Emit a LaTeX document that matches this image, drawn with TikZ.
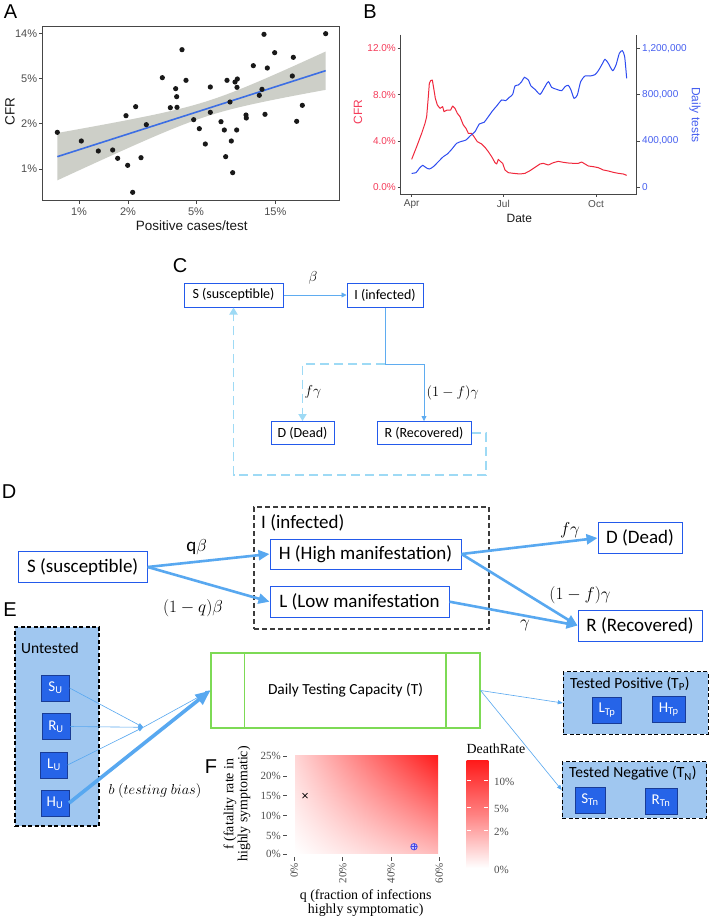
\documentclass[tikz,border=0pt]{standalone}
\usepackage{fontspec}
\setmainfont{Carlito}
\newfontfamily\arialf{Liberation Sans}
\newfontfamily\timesf{Liberation Serif}
\usetikzlibrary{arrows.meta,shadings}
\definecolor{cboxblue}{RGB}{35,90,235}
\definecolor{csolid}{RGB}{95,172,240}
\definecolor{cdash}{RGB}{158,218,245}
\definecolor{darrow}{RGB}{88,168,240}
\definecolor{untfill}{RGB}{160,199,240}
\definecolor{subfill}{RGB}{38,100,232}
\definecolor{subedge}{RGB}{25,60,150}
\definecolor{tgreen}{RGB}{125,218,85}
\definecolor{bred}{RGB}{240,40,60}
\definecolor{bblue}{RGB}{45,75,240}
\definecolor{bredtxt}{RGB}{245,60,90}
\definecolor{bbluetxt}{RGB}{70,95,240}
\definecolor{aline}{RGB}{60,110,228}
\definecolor{aband}{RGB}{205,207,200}
\definecolor{axgray}{RGB}{70,70,70}
\definecolor{ticktxt}{RGB}{77,77,77}
\definecolor{hred}{RGB}{255,25,25}
\definecolor{dgray}{RGB}{60,60,60}
\definecolor{mblue}{RGB}{70,70,230}
\begin{document}
\begin{tikzpicture}[x=1pt,y=-1pt,
 plab/.style={font=\arialf\fontsize{20}{24}\selectfont, inner sep=0},
 atick/.style={font=\arialf\fontsize{11}{13}\selectfont, text=ticktxt, inner sep=0},
 atitle/.style={font=\arialf\fontsize{13.5}{16}\selectfont, text=black!90, inner sep=0},
 btickl/.style={font=\arialf\fontsize{10}{12}\selectfont, text=bredtxt, inner sep=0, anchor=east},
 btickr/.style={font=\arialf\fontsize{10}{12}\selectfont, text=bbluetxt, inner sep=0, anchor=west},
 btickx/.style={font=\arialf\fontsize{10}{12}\selectfont, text=ticktxt, inner sep=0},
 cbox/.style={draw=cboxblue, line width=1pt, fill=white, inner sep=0, minimum height=24pt, font=\fontsize{14}{16}\selectfont},
 dbox/.style={draw=cboxblue, line width=1pt, fill=white, inner sep=0, minimum height=30.5pt, font=\fontsize{19}{22}\selectfont},
 csol/.style={draw=csolid, line width=0.8pt},
 cdsh/.style={draw=cdash, line width=1.8pt, dash pattern=on 9pt off 5pt},
 darr/.style={draw=darrow, line width=2.6pt, -{Triangle[length=11pt,width=10pt]}},
 mlab/.style={inner sep=0},
 grpbox/.style={draw=black, line width=1.1pt, dash pattern=on 4pt off 2.5pt, fill=untfill, inner sep=0},
 subbox/.style={draw=subedge, line width=0.6pt, fill=subfill, text=white, inner sep=0, minimum height=26pt, font=\fontsize{15}{17}\selectfont},
 earr/.style={draw=darrow, line width=0.6pt, -{Triangle[length=5pt,width=4pt]}},
 ftick/.style={font=\timesf\fontsize{11}{13}\selectfont, text=ticktxt, inner sep=0},
 ftitle/.style={font=\timesf\fontsize{13.9}{14}\selectfont, inner sep=0, align=center},
 grptitle/.style={anchor=west, font=\fontsize{15.5}{18}\selectfont, inner sep=0},
]
\useasboundingbox (0,0) rectangle (709,919);
\fill[white] (0,0) rectangle (709,919);

% ================= Panel A =================
\begin{scope}[x=0.33333pt,y=-0.33333pt]
\node[plab] (labA) at (32,35) {A};
\fill[aband] plot[domain=172:977,samples=50] (\x,{470-0.3205*(\x-172)-sqrt(506+(0.1494*(\x-622.8))*(0.1494*(\x-622.8)))}) -- plot[domain=977:172,samples=50] (\x,{470-0.3205*(\x-172)+sqrt(506+(0.1494*(\x-622.8))*(0.1494*(\x-622.8)))}) -- cycle;
\draw[aline, line width=1.6pt] (172,470) -- (977,212);
\foreach \p in {(172,397),(244,423),(295,453),(338,450),(353,475),(383,496),(398,577),(378,347),(407,320),(423,473),(439,374),(487,233),(511,323),(527,266),(530,290),(531,322),(546,149),(558,241),(581,359),(598,386),(616,432),(631,261),(631,337),(663,365),(673,390),(677,470),(681,241),(690,306),(694,423),(698,518),(705,246),(710,390),(711,262),(712,237),(738,345),(739,354),(760,197),(778,286),(786,268),(792,103),(795,343),(802,204),(824,158),(877,228),(880,172),(890,364),(907,316),(977,101)}
  \fill[black!90] \p circle (2.6pt);
\draw[axgray, line width=0.7pt] (128,78) rectangle (1018,602);
\foreach \y/\t in {101/14\%,236/5\%,371/2\%,507/1\%}{
  \draw[axgray,line width=0.7pt] (118,\y) -- (128,\y);
  \node[atick,anchor=east] at (112,\y) {\t};}
\foreach \x/\t in {237/1\%,384/2\%,588/5\%,826/15\%}{
  \draw[axgray,line width=0.7pt] (\x,602) -- (\x,612);
  \node[atick] at (\x,636) {\t};}
\node[atitle] (axA) at (575,678) {Positive cases/test};
\node[atitle, rotate=90] (ayA) at (30,335) {CFR};
\end{scope}

% ================= Panel B =================
\begin{scope}[xshift=360pt, x=0.33333pt,y=-0.33333pt]
\node[plab] (labB) at (30,35) {B};
\draw[bred, line width=1pt, line join=round] plot coordinates {(155,478) (170,440) (185,400) (195,370) (200,350) (205,290) (208,250) (212,242) (217,240) (222,270) (226,295) (232,315) (240,325) (248,320) (252,335) (262,330) (272,330) (278,318) (285,325) (292,340) (300,350) (310,375) (318,385) (325,400) (335,400) (342,410) (352,425) (365,432) (375,442) (385,455) (395,470) (405,488) (410,492) (415,478) (422,485) (428,490) (435,510) (445,518) (460,520) (480,522) (495,520) (510,512) (525,502) (540,492) (550,490) (565,495) (580,488) (595,484) (610,487) (625,489) (640,490) (655,490) (665,486) (675,492) (685,498) (700,500) (715,503) (730,510) (745,513) (760,517) (775,520) (790,522) (800,526)};
\draw[bblue, line width=1pt] plot[smooth, tension=0.4] coordinates {(155,520) (168,518) (178,505) (188,496) (198,503) (208,507) (220,500) (235,485) (250,470) (262,462) (275,448) (290,430) (305,424) (318,420) (330,408) (345,395) (358,372) (372,367) (385,350) (398,332) (410,318) (425,300) (437,302) (448,292) (458,283) (465,258) (475,255) (485,245) (493,232) (505,240) (513,258) (525,268) (540,283) (552,265) (565,245) (575,262) (590,268) (605,272) (615,260) (625,256) (633,270) (642,295) (652,285) (662,245) (675,228) (690,228) (705,224) (715,212) (725,195) (735,178) (745,190) (758,212) (768,195) (778,160) (787,152) (794,170) (800,235)};
\draw[axgray, line width=0.8pt] (122,104) -- (122,583) -- (830,583) -- (830,104);
\foreach \y/\l/\r in {145/12.0\%/{1,200,000},284/8.0\%/{800,000},423/4.0\%/{400,000},562/0.0\%/0}{
  \draw[axgray,line width=0.7pt] (113,\y) -- (122,\y);
  \draw[axgray,line width=0.7pt] (830,\y) -- (839,\y);
  \node[btickl] at (108,\y) {\l};
  \node[btickr] at (846,\y) {\r};}
\foreach \x/\t in {155/Apr,430/Jul,708/Oct}{
  \draw[axgray,line width=0.7pt] (\x,583) -- (\x,592);
  \node[btickx] at (\x,612) {\t};}
\node[atitle, font=\arialf\fontsize{12}{14}\selectfont] (axB) at (478,655) {Date};
\node[atitle, font=\arialf\fontsize{12}{14}\selectfont, text=bbluetxt, rotate=-90] (ayB) at (1005,345) {Daily tests};
\node[atitle, font=\arialf\fontsize{12}{14}\selectfont, text=bredtxt, rotate=90] (ayB2) at (-6,336) {CFR};
\end{scope}

% ================= Panel C =================
\node[plab] (labC) at (180,266) {C};
\node[cbox, minimum width=99pt] (cS) at (233.5,295) {S (susceptible)};
\node[cbox, minimum width=76pt] (cI) at (385,295) {I (infected)};
\node[cbox, minimum width=63pt, minimum height=23pt] (cD) at (302.5,433) {D (Dead)};
\node[cbox, minimum width=94pt, minimum height=23pt] (cR) at (424,433) {R (Recovered)};
\coordinate (cj) at (385,364);
\coordinate (cl) at (485.7,475);
\draw[csol, -{Triangle[length=5pt,width=5pt]}] (cS) -- (cI);
\draw[csol, -{Triangle[length=5pt,width=5pt]}] (cI.south) -- (cj) -| (cR.north);
\draw[cdsh, -{Triangle[length=7pt,width=8pt]}] (cj) -| (cD.north);
\draw[cdsh, -{Triangle[length=7pt,width=8pt]}] (cR.east) -| (cl) -| (cS.south);
\node[mlab, font=\fontsize{14}{16}\selectfont] (cbeta) at (313,278) {$\beta$};
\node[mlab, font=\fontsize{14}{16}\selectfont] (cfg) at (313,392) {$f\gamma$};
\node[mlab, font=\fontsize{14}{16}\selectfont] (c1fg) at (452.7,392.7) {$(1-f)\gamma$};

% ================= Panel D =================
\node[plab] (labD) at (9,492) {D};
\node[draw=dgray, line width=1.1pt, dash pattern=on 5pt off 3pt, minimum width=235pt, minimum height=122pt, inner sep=0] (dI) at (371.5,568) {};
\node[anchor=west, inner sep=0, font=\fontsize{19}{22}\selectfont] (dIlab) at (261,523) {I (infected)};
\node[dbox, minimum width=129pt] (dS) at (82.7,567) {S (susceptible)};
\node[dbox, minimum width=191pt, minimum height=30pt] (dH) at (365.5,554) {H (High manifestation)};
\node[dbox, minimum width=179pt, minimum height=31pt] (dL) at (359.5,601.7) {L (Low manifestation};
\node[dbox, minimum width=84pt] (dD) at (640,538) {D (Dead)};
\node[dbox, minimum width=124pt, minimum height=31pt] (dR) at (640,625.5) {R (Recovered)};
\draw[darr] (dS.east) -- (dH.west);
\draw[darr] (dS.east) -- (dL.west);
\draw[darr] (dH.east) -- (dD.west);
\draw[darr] (dH.east) -- (dR.west);
\draw[darr] (dL.east) -- (dR.west);
\node[mlab, font=\fontsize{19}{22}\selectfont] (dqb) at (196.7,546.7) {q$\beta$};
\node[mlab, font=\fontsize{18}{22}\selectfont] (d1qb) at (193,608) {$(1-q)\beta$};
\node[mlab, font=\fontsize{18}{22}\selectfont] (dfg) at (570,530) {$f\gamma$};
\node[mlab, font=\fontsize{18}{22}\selectfont] (d1fg) at (580,595) {$(1-f)\gamma$};
\node[mlab, font=\fontsize{18}{22}\selectfont] (dg) at (525,625) {$\gamma$};

% ================= Panel E =================
\node[plab] (labE) at (10,610) {E};
\node[grpbox, minimum width=84pt, minimum height=199pt] (eU) at (57,726.5) {};
\node[grptitle] (eUt) at (21,648) {Untested};
\node[subbox, minimum width=27.6pt] (eSU) at (55.5,688) {S\textsubscript{U}};
\node[subbox, minimum width=28pt] (eRU) at (56,726.5) {R\textsubscript{U}};
\node[subbox, minimum width=26.6pt] (eLU) at (54,765) {L\textsubscript{U}};
\node[subbox, minimum width=27.6pt] (eHU) at (55,803) {H\textsubscript{U}};
\node[draw=tgreen, line width=1.2pt, minimum width=269pt, minimum height=75pt, inner sep=0, font=\fontsize{15.4}{18}\selectfont] (eT) at (345.5,690.5) {Daily Testing Capacity (T)};
\draw[tgreen, line width=1.2pt] (244.3,653) -- (244.3,728) (446,653) -- (446,728);
\coordinate (ec) at (143.3,727.3);
\draw[earr] (eSU.east) -- (ec);
\draw[earr] (eRU.east) -- (ec);
\draw[earr] (eLU.east) -- (ec);
\draw[earr] (ec) -- (eT.west);
\draw[draw=darrow, line width=3.6pt, -{Triangle[length=15pt,width=12pt]}] (eHU.east) -- (eT.west);
\node[mlab, font=\fontsize{15.5}{18}\selectfont] (ebias) at (155,791) {$b\ (testing\ bias)$};
\node[grpbox, minimum width=144.7pt, minimum height=62.6pt] (eTP) at (635.7,703) {};
\node[grptitle] (eTPt) at (570,684) {Tested Positive (T\textsubscript{P})};
\node[subbox, minimum width=29pt] (eLT) at (607,710) {L\textsubscript{Tp}};
\node[subbox, minimum width=32.7pt] (eHT) at (668.7,709.7) {H\textsubscript{Tp}};
\node[grpbox, minimum width=144.4pt, minimum height=56.6pt] (eTN) at (634.5,790) {};
\node[grptitle] (eTNt) at (569,773.5) {Tested Negative (T\textsubscript{N})};
\node[subbox, minimum width=30pt] (eST) at (590,800) {S\textsubscript{Tn}};
\node[subbox, minimum width=31.7pt] (eRT) at (661,801) {R\textsubscript{Tn}};
\draw[earr] (eT.east) -- (eTP.west);
\draw[earr] (eT.east) -- (eTN.west);

% ================= Panel F =================
\node[plab] (labF) at (211,767) {F};
\shade[upper left=hred!18!white, upper right=hred, lower left=white, lower right=hred!30!white] (295,755) rectangle (438,853);
\foreach \y/\t in {756/25\%,776/20\%,795.7/15\%,815.7/10\%,835.7/5\%,854/0\%}{
  \draw[ticktxt, line width=0.6pt] (283,\y) -- (287,\y);
  \node[ftick, anchor=east] at (281,\y) {\t};}
\foreach \x/\t in {294.3/0\%,342.7/20\%,391/40\%,439.3/60\%}{
  \draw[ticktxt, line width=0.6pt] (\x,857) -- (\x,861);
  \node[ftick, anchor=east, rotate=90] at (\x,863) {\t};}
\node[ftitle] (fxt) at (365.7,903.5) {q (fraction of infections\\highly symptomatic)};
\node[ftitle, rotate=90] (fyt) at (237,804) {f (fatality rate in\\highly symptomatic)};
\draw[black, line width=0.7pt] (302.5,793.2) -- (307.5,798.2) (302.5,798.2) -- (307.5,793.2);
\draw[mblue, fill=mblue!30, line width=0.8pt] (414,846.7) circle (3.2pt);
\draw[mblue, line width=0.8pt] (410.8,846.7) -- (417.2,846.7) (414,843.5) -- (414,849.9);
\node[ftitle] (fleg) at (496,748.3) {DeathRate};
\shade[top color=hred, bottom color=white, middle color=hred!55!white] (466.7,760) rectangle (488.3,868);
\foreach \y/\t in {780/10\%,807.3/5\%,830/2\%,868/0\%}{
  \draw[white, line width=0.6pt] (466.7,\y) -- (471,\y) (484,\y) -- (488.3,\y);
  \node[ftick, anchor=west] at (494,\y+2) {\t};}
\end{tikzpicture}
\end{document}
